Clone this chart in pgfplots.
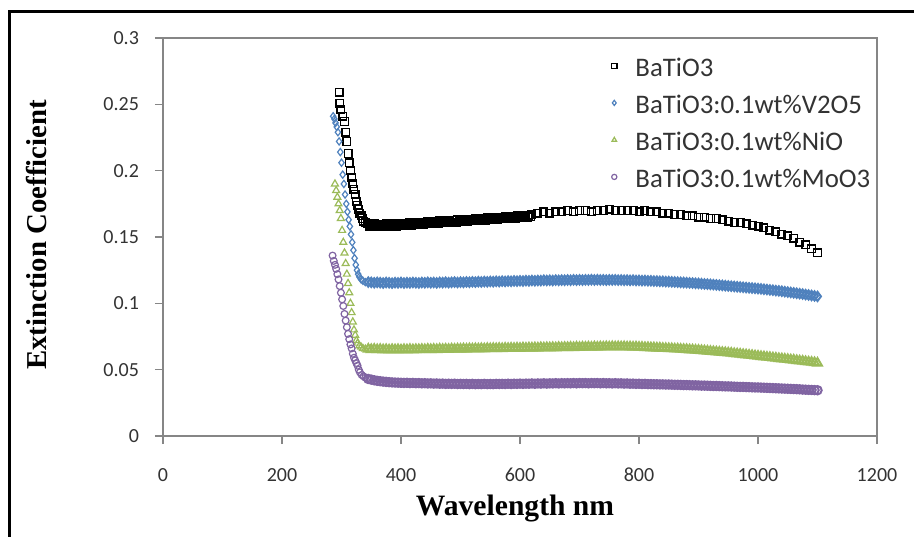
\documentclass[border=0pt]{standalone}
\usepackage{pgfplots}
\pgfplotsset{compat=1.18}
\usepackage{fontspec}
\setmainfont{Carlito}
\newfontfamily\timesfont{Liberation Serif}
\definecolor{xlblue}{HTML}{4F81BD}
\definecolor{xlgreen}{HTML}{9BBB59}
\definecolor{xlpurple}{HTML}{8064A2}
\definecolor{axgray}{HTML}{868686}
\definecolor{txgray}{HTML}{333333}
\begin{document}
\begin{tikzpicture}
\useasboundingbox (0,0) rectangle (457pt,268pt);
\draw[line width=1.4pt] (4.8pt,-2pt) -- (4.8pt,262.2pt) -- (460pt,262.2pt);
\begin{axis}[
  at={(81.5pt,50pt)}, anchor=south west,
  scale only axis, width=357pt, height=199pt,
  xmin=0, xmax=1200, ymin=0, ymax=0.3,
  xtick={0,200,400,600,800,1000,1200},
  ytick={0,0.05,0.1,0.15,0.2,0.25,0.3},
  yticklabels={0,0.05,0.1,0.15,0.2,0.25,0.3},
  xticklabels={0,200,400,600,800,1000,1200},
  axis line style={axgray, line width=0.7pt},
  tick style={axgray, line width=0.7pt},
  tick align=outside, major tick length=4pt,
  xtick pos=bottom, ytick pos=left,
  tick label style={font=\fontsize{10}{11}\selectfont, text=txgray},
  xticklabel style={yshift=-8.5pt},
  yticklabel style={xshift=-4.5pt},
  xlabel={\timesfont\bfseries Wavelength nm},
  ylabel={\timesfont\bfseries Extinction Coefficient},
  xlabel style={at={(axis description cs:0.493,-0.199)}, anchor=base, font=\fontsize{14.8}{15}\selectfont},
  ylabel style={at={(axis description cs:-0.1765,0.505)}, anchor=center, font=\fontsize{14.4}{15}\selectfont},
  legend style={at={(rel axis cs:0.6175,0.9585)}, anchor=north west, draw=none, fill=none,
    font=\fontsize{13.4}{14}\selectfont, text=txgray, row sep=6.5pt,
    nodes={inner sep=0pt, text height=9pt, text depth=3pt}},
  legend cell align=left,
  legend image code/.code={\path[draw=none, fill=none] (-2pt,2.5pt) -- (10.6pt,2.5pt); \draw[#1, mark size=1.3pt] plot coordinates {(0pt,2.5pt)};},
  every axis plot/.append style={only marks, line width=0.6pt},
]
\addplot[black, mark=square, mark size=1.9pt, line width=0.7pt] coordinates {
(296,0.259) (297,0.251) (299,0.246) (302,0.241) (305,0.237) (307,0.229) (309,0.222) (311,0.213) (313,0.206) (315,0.200) (317,0.195) (319,0.190) (321,0.186) (323,0.182) (325,0.177) (327,0.174) (329,0.171) (331,0.168) (333,0.166) (335,0.164) (337,0.162) (340,0.161) (343,0.160)
(345,.1600) (347.5,.1580) (350,.1595) (352.5,.1578) (355,.1598) (357.5,.1582) (360,.1592) (362.5,.1576) (365,.1597) (367.5,.1580) (370,.1594) (372.5,.1579) (375,.1598) (377.5,.1583) (380,.1596) (382.5,.1580) (385,.1600) (387.5,.1584) (390,.1597) (392.5,.1582) (395,.1601) (397.5,.1585) (400,.1600) (402.5,.1586) (405,.1603) (407.5,.1588) (410,.1602) (412.5,.1589) (415,.1606) (417.5,.1590) (420,.1605) (422.5,.1592) (425,.1609) (427.5,.1594) (430,.1608) (432.5,.1595) (435,.1612) (437.5,.1597) (440,.1611) (442.5,.1598) (445,.1615) (447.5,.1600) (450,.1614) (452.5,.1601) (455,.1618) (457.5,.1603) (460,.1617) (462.5,.1604) (465,.1621) (467.5,.1606) (470,.1620) (472.5,.1607) (475,.1624) (477.5,.1609) (480,.1623) (482.5,.1610) (485,.1627) (487.5,.1612) (490,.1626) (492.5,.1613) (495,.1630) (497.5,.1615) (500,.1629)
(502.5,.1616) (505,.1632) (507.5,.1618) (510,.1631) (512.5,.1619) (515,.1635) (517.5,.1621) (520,.1634) (522.5,.1622) (525,.1638) (527.5,.1624) (530,.1637) (532.5,.1625) (535,.1641) (537.5,.1627) (540,.1640) (542.5,.1628) (545,.1644) (547.5,.1630) (550,.1643) (552.5,.1631) (555,.1647) (557.5,.1633) (560,.1646) (562.5,.1634) (565,.1650) (567.5,.1636) (570,.1649) (572.5,.1637) (575,.1653) (577.5,.1639) (580,.1652) (582.5,.1640) (585,.1656) (587.5,.1642) (590,.1655) (592.5,.1643) (595,.1659) (597.5,.1645) (600,.1658) (602.5,.1646) (605,.1662) (607.5,.1648) (610,.1661) (612.5,.1649) (615,.1665) (617.5,.1651) (620,.1666)
(630,0.168) (640,0.169) (650,0.168) (660,0.169) (670,0.169) (680,0.170) (690,0.169) (700,0.170) (710,0.170) (720,0.169) (730,0.170) (740,0.170) (750,0.171) (760,0.170) (770,0.170) (780,0.170) (790,0.170) (800,0.169) (810,0.170) (820,0.169) (830,0.169) (840,0.168) (850,0.168) (860,0.167) (870,0.167) (880,0.166) (890,0.166) (900,0.165) (910,0.165) (920,0.164) (930,0.164) (940,0.163) (950,0.162) (960,0.161) (970,0.161) (980,0.160) (990,0.159) (1000,0.158) (1010,0.157) (1020,0.155) (1030,0.154) (1040,0.152) (1050,0.151) (1060,0.149) (1070,0.146) (1080,0.144) (1090,0.141) (1100,0.138)
};
\addlegendentry{BaTiO3}
\addplot[xlblue, mark=diamond, mark size=1.8pt] coordinates {
(286,0.241) (288,0.239) (290,0.236) (292,0.233) (294,0.229) (296,0.222) (298,0.214) (300,0.206) (302,0.197) (304,0.190) (306,0.182) (308,0.175) (310,0.169) (312,0.163) (314,0.158) (316,0.152) (318,0.146) (320,0.140) (322,0.134) (324,0.129) (326,0.125) (328,0.122) (330,0.120) (333,0.118) (336,0.117) (340,0.116)
};
\addlegendentry{BaTiO3:0.1wt\%V2O5}
\addplot[xlblue, mark=diamond, mark size=2.3pt, line width=1pt, forget plot] coordinates {
(345,.1160) (350,.1158) (355,.1155) (360,.1158) (365,.1156) (370,.1153) (375,.1157) (380,.1155) (385,.1152) (390,.1156) (395,.1154) (400,.1157) (405,.1153) (410,.1156) (415,.1154) (420,.1157) (425,.1155) (430,.1153) (435,.1157) (440,.1155) (445,.1158) (450,.1155) (455,.1157) (460,.1154) (465,.1158) (470,.1156) (475,.1159) (480,.1156) (485,.1158) (490,.1160) (495,.1157) (500,.1160) (505,.1158) (510,.1161) (515,.1159) (520,.1162) (525,.1160) (530,.1163) (535,.1161) (540,.1164) (545,.1162) (550,.1165) (555,.1163) (560,.1166) (565,.1164) (570,.1167) (575,.1165) (580,.1168) (585,.1166) (590,.1169) (595,.1167) (600,.1170)
(605,.1168) (610,.1171) (615,.1169) (620,.1172) (625,.1170) (630,.1172) (635,.1171) (640,.1174) (645,.1172) (650,.1174) (655,.1172) (660,.1175) (665,.1173) (670,.1175) (675,.1174) (680,.1176) (685,.1174) (690,.1177) (695,.1175) (700,.1177) (705,.1175) (710,.1177) (715,.1176) (720,.1178) (725,.1176) (730,.1178) (735,.1176) (740,.1177) (745,.1175) (750,.1177) (755,.1176) (760,.1177) (765,.1175) (770,.1176) (775,.1174) (780,.1175) (785,.1173) (790,.1175) (795,.1172) (800,.1173)
(805,.1171) (810,.1172) (815,.1170) (820,.1170) (825,.1168) (830,.1168) (835,.1166) (840,.1166) (845,.1164) (850,.1164) (855,.1162) (860,.1161) (865,.1160) (870,.1158) (875,.1157) (880,.1156) (885,.1154) (890,.1153) (895,.1151) (900,.1150) (905,.1148) (910,.1146) (915,.1145) (920,.1143) (925,.1141) (930,.1139) (935,.1137) (940,.1135) (945,.1133) (950,.1131) (955,.1129) (960,.1127) (965,.1125) (970,.1123) (975,.1121) (980,.1119) (985,.1117) (990,.1115) (995,.1113) (1000,.1111)
(1005,.1109) (1010,.1106) (1015,.1104) (1020,.1101) (1025,.1099) (1030,.1096) (1035,.1094) (1040,.1091) (1045,.1088) (1050,.1085) (1055,.1082) (1060,.1079) (1065,.1076) (1070,.1073) (1075,.1070) (1080,.1066) (1085,.1063) (1090,.1059) (1095,.1056) (1100,.1052)
};
\addplot[xlgreen, mark=triangle, mark size=2pt] coordinates {
(289,0.190) (291,0.185) (293,0.180) (295,0.175) (297,0.170) (299,0.164) (301,0.155) (303,0.146) (305,0.138) (307,0.130) (309,0.122) (311,0.115) (313,0.108) (315,0.100) (317,0.093) (319,0.086) (321,0.080) (323,0.076) (325,0.072) (327,0.070) (330,0.068) (333,0.067) (336,0.066) (340,0.0655)
};
\addlegendentry{BaTiO3:0.1wt\%NiO}
\addplot[xlgreen, mark=triangle, mark size=2.5pt, line width=1pt, forget plot] coordinates {
(345,.0655) (350,.0652) (355,.0654) (360,.0651) (365,.0653) (370,.0650) (375,.0652) (380,.0649) (385,.0652) (390,.0650) (395,.0652) (400,.0649) (405,.0652) (410,.0650) (415,.0653) (420,.0650) (425,.0652) (430,.0651) (435,.0653) (440,.0651) (445,.0654) (450,.0652) (455,.0654) (460,.0652) (465,.0655) (470,.0653) (475,.0655) (480,.0653) (485,.0656) (490,.0654) (495,.0656) (500,.0655) (505,.0657) (510,.0655) (515,.0658) (520,.0656) (525,.0658) (530,.0657) (535,.0659) (540,.0657) (545,.0660) (550,.0658) (555,.0660) (560,.0659) (565,.0661) (570,.0659) (575,.0662) (580,.0660) (585,.0662) (590,.0661) (595,.0663) (600,.0661)
(605,.0664) (610,.0662) (615,.0664) (620,.0663) (625,.0665) (630,.0663) (635,.0666) (640,.0664) (645,.0666) (650,.0665) (655,.0667) (660,.0665) (665,.0668) (670,.0666) (675,.0668) (680,.0667) (685,.0669) (690,.0667) (695,.0670) (700,.0668) (705,.0670) (710,.0669) (715,.0671) (720,.0669) (725,.0672) (730,.0670) (735,.0672) (740,.0671) (745,.0673) (750,.0671) (755,.0673) (760,.0672) (765,.0673) (770,.0672) (775,.0673) (780,.0671) (785,.0672) (790,.0670) (795,.0671) (800,.0669)
(805,.0669) (810,.0667) (815,.0667) (820,.0665) (825,.0665) (830,.0663) (835,.0663) (840,.0661) (845,.0660) (850,.0659) (855,.0658) (860,.0656) (865,.0656) (870,.0654) (875,.0653) (880,.0652) (885,.0650) (890,.0649) (895,.0647) (900,.0646) (905,.0644) (910,.0642) (915,.0640) (920,.0638) (925,.0636) (930,.0634) (935,.0632) (940,.0630) (945,.0628) (950,.0626) (955,.0624) (960,.0621) (965,.0619) (970,.0617) (975,.0614) (980,.0612) (985,.0609) (990,.0607) (995,.0604) (1000,.0602)
(1005,.0599) (1010,.0597) (1015,.0594) (1020,.0592) (1025,.0589) (1030,.0587) (1035,.0584) (1040,.0582) (1045,.0579) (1050,.0577) (1055,.0574) (1060,.0572) (1065,.0569) (1070,.0566) (1075,.0564) (1080,.0561) (1085,.0558) (1090,.0556) (1095,.0553) (1100,.0550)
};
\addplot[xlpurple, mark=o, mark size=1.7pt] coordinates {
(285,0.136) (287,0.132) (289,0.129) (291,0.126) (293,0.122) (295,0.118) (297,0.113) (299,0.108) (301,0.103) (303,0.098) (305,0.092) (307,0.087) (309,0.082) (311,0.077) (313,0.073) (315,0.069) (317,0.066) (319,0.062) (321,0.059) (323,0.057) (325,0.055) (327,0.053) (329,0.050) (331,0.048) (334,0.046) (337,0.045) (340,0.044) (343,0.0435)
};
\addlegendentry{BaTiO3:0.1wt\%MoO3}
\addplot[xlpurple, mark=o, mark size=2.1pt, line width=1pt, forget plot] coordinates {
(345,.0430) (350,.0425) (355,.0420) (360,.0416) (365,.0413) (370,.0410) (375,.0408) (380,.0406) (385,.0404) (390,.0403) (395,.0402) (400,.0401) (405,.0400) (410,.0401) (415,.0399) (420,.0400) (425,.0398) (430,.0399) (435,.0397) (440,.0398) (445,.0396) (450,.0397) (455,.0395) (460,.0396) (465,.0394) (470,.0395) (475,.0393) (480,.0394) (485,.0393) (490,.0394) (495,.0392) (500,.0393) (505,.0392) (510,.0393) (515,.0391) (520,.0393) (525,.0391) (530,.0392) (535,.0391) (540,.0393) (545,.0391) (550,.0392) (555,.0391) (560,.0393) (565,.0392) (570,.0393) (575,.0392) (580,.0394) (585,.0392) (590,.0394) (595,.0393) (600,.0395)
(605,.0393) (610,.0395) (615,.0394) (620,.0396) (625,.0394) (630,.0396) (635,.0395) (640,.0397) (645,.0395) (650,.0397) (655,.0396) (660,.0398) (665,.0396) (670,.0398) (675,.0397) (680,.0398) (685,.0397) (690,.0399) (695,.0397) (700,.0399) (705,.0398) (710,.0399) (715,.0397) (720,.0399) (725,.0398) (730,.0399) (735,.0397) (740,.0399) (745,.0397) (750,.0398) (755,.0396) (760,.0398) (765,.0396) (770,.0397) (775,.0395) (780,.0396) (785,.0394) (790,.0395) (795,.0393) (800,.0394)
(805,.0392) (810,.0393) (815,.0391) (820,.0391) (825,.0390) (830,.0390) (835,.0389) (840,.0389) (845,.0388) (850,.0388) (855,.0387) (860,.0386) (865,.0386) (870,.0385) (875,.0384) (880,.0384) (885,.0383) (890,.0382) (895,.0382) (900,.0381) (905,.0380) (910,.0380) (915,.0379) (920,.0378) (925,.0377) (930,.0377) (935,.0376) (940,.0375) (945,.0374) (950,.0374) (955,.0373) (960,.0372) (965,.0371) (970,.0370) (975,.0370) (980,.0369) (985,.0368) (990,.0367) (995,.0366) (1000,.0366)
(1005,.0365) (1010,.0364) (1015,.0363) (1020,.0362) (1025,.0361) (1030,.0360) (1035,.0359) (1040,.0358) (1045,.0357) (1050,.0356) (1055,.0355) (1060,.0354) (1065,.0353) (1070,.0352) (1075,.0350) (1080,.0349) (1085,.0348) (1090,.0347) (1095,.0346) (1100,.0345)
};
\end{axis}
\end{tikzpicture}
\end{document}
